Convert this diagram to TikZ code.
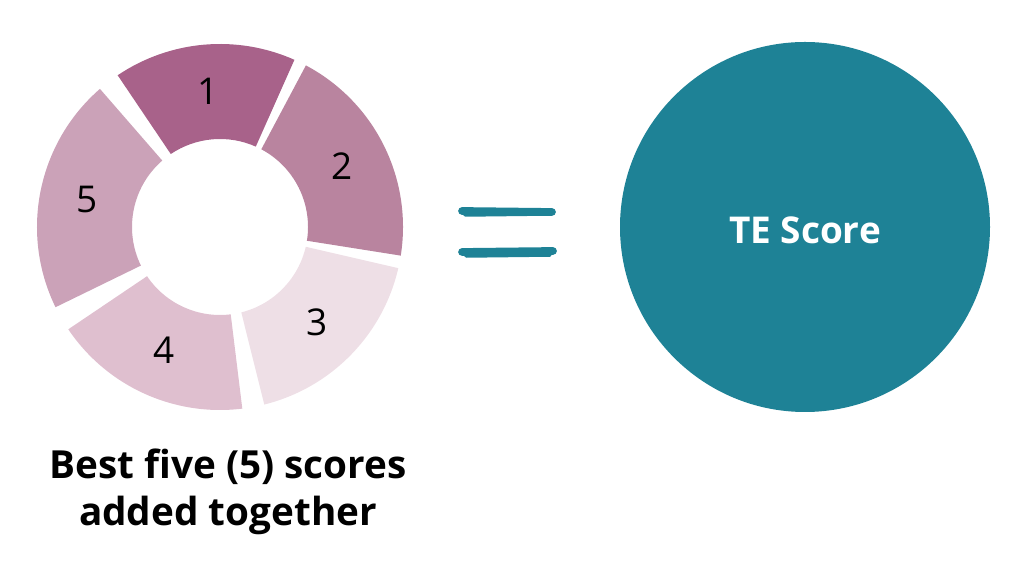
\documentclass[tikz,border=0pt]{standalone}
\usepackage{fontspec}
\setmainfont{Open Sans}
\definecolor{segA}{HTML}{A8628A}
\definecolor{segB}{HTML}{B9849F}
\definecolor{segC}{HTML}{EEDFE6}
\definecolor{segD}{HTML}{DFBFCF}
\definecolor{segE}{HTML}{CBA2B8}
\definecolor{teal}{HTML}{1E8296}
\tikzset{
    seglabel/.style={font=\fontsize{10.5}{12}\selectfont, text=black},
    stroke/.style={teal, line width=2.2pt, line cap=round}
}
\begin{document}
\begin{tikzpicture}[x=0.01cm, y=0.01cm]
    \useasboundingbox (0,0) rectangle (1024,576);
    % donut segments
    \foreach \a/\b/\c/\t in {66/124/segA/1, -9/62/segB/2, -76/-13/segC/3, -146/-83/segD/4, 131/206/segE/5} {
        \begin{scope}[shift={(220,349)}]
            \fill[\c] (\a:183) arc (\a:\b:183) -- (\b:88) arc (\b:\a:88) -- cycle;
            \node[seglabel] (seg\t) at ({(\a+\b)/2}:136) {\t};
        \end{scope}
    }
    \node[font=\bfseries\fontsize{11}{13.5}\selectfont, align=center] (caption) at (228,84) {Best five (5) scores\\added together};
    % equals sign
    \draw[stroke] (462,365) -- (552,364);
    \draw[stroke, line width=1pt] (465,361) -- (548,362);
    \draw[stroke] (462,324) -- (553,325);
    \draw[stroke, line width=1pt] (466,320) -- (550,321);
    % result
    \fill[teal] (805,349) circle (185);
    \node[font=\bfseries\fontsize{10.5}{12}\selectfont, text=white] (score) at (805,346) {TE Score};
\end{tikzpicture}
\end{document}
